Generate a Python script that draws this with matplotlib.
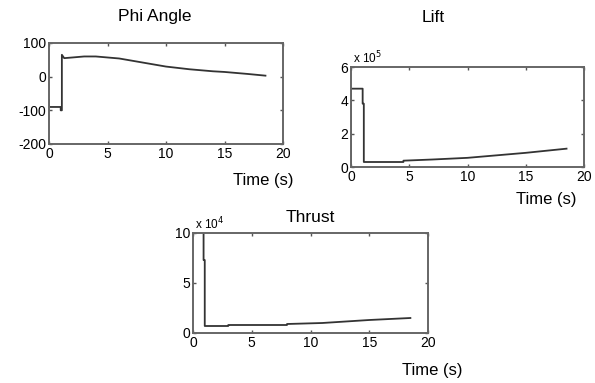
import matplotlib
matplotlib.use("Agg")
import matplotlib.pyplot as plt
from matplotlib.ticker import FuncFormatter

plt.rcParams['font.family'] = ['Liberation Sans', 'DejaVu Sans']
plt.rcParams['axes.unicode_minus'] = False

# Phi Angle データ
phi_t = [0, 0, 0.05, 1.0, 1.0, 1.1, 1.1, 1.3, 2, 3, 4, 5, 6, 7, 8, 9, 10, 11, 12, 13, 14, 15, 16, 17, 18.5]
phi_v = [-70, -90, -90, -90, -100, -100, 65, 55, 57, 60, 60, 57, 54, 48, 42, 36, 30, 26, 22, 19, 16, 14, 11, 8, 3]

# Lift データ
lift_t = [0, 0, 1.0, 1.0, 1.1, 1.1, 4.5, 4.5, 7, 10, 12.5, 15, 18.5]
lift_v = [0, 4.7e5, 4.7e5, 3.8e5, 3.8e5, 0.3e5, 0.3e5, 0.38e5, 0.45e5, 0.55e5, 0.7e5, 0.85e5, 1.1e5]

# Thrust データ
thrust_t = [0.9, 0.9, 1.0, 1.0, 3, 3, 8, 8, 11, 13, 15, 18.5]
thrust_v = [10e4, 7.3e4, 7.3e4, 0.7e4, 0.7e4, 0.8e4, 0.8e4, 0.9e4, 1.0e4, 1.15e4, 1.3e4, 1.5e4]

W, H = 595, 383
fig = plt.figure(figsize=(W / 100, H / 100), dpi=100)


def make_ax(l, t, r, b):
    ax = fig.add_axes([l / W, 1 - b / H, (r - l) / W, (b - t) / H])
    for s in ax.spines.values():
        s.set_color('#666666')
        s.set_linewidth(1.4)
    ax.tick_params(direction='in', length=2.5, width=1, color='#555555',
                   top=True, right=True, labelsize=10, pad=2)
    ax.set_xlim(0, 20)
    ax.set_xticks([0, 5, 10, 15, 20])
    return ax


# Phi Angle
ax1 = make_ax(49, 43, 283, 144)
ax1.plot(phi_t, phi_v, color='#333333', lw=1.3)
ax1.set_ylim(-200, 100)
ax1.set_yticks([-200, -100, 0, 100])
fig.text(155 / W, 1 - 17 / H, 'Phi Angle', ha='center', va='center', fontsize=12.5)
fig.text(263 / W, 1 - 181 / H, 'Time (s)', ha='center', va='center', fontsize=12)

# Lift
ax2 = make_ax(351, 67, 584, 167)
ax2.plot(lift_t, lift_v, color='#333333', lw=1.3)
ax2.set_ylim(0, 6e5)
ax2.set_yticks([0, 2e5, 4e5, 6e5])
ax2.yaxis.set_major_formatter(FuncFormatter(lambda v, p: '%g' % (v / 1e5)))
fig.text(433 / W, 1 - 17 / H, 'Lift', ha='center', va='center', fontsize=12.5)
fig.text(353 / W, 1 - 58 / H, r'x 10$^5$', ha='left', va='center', fontsize=8.5)
fig.text(546 / W, 1 - 199 / H, 'Time (s)', ha='center', va='center', fontsize=12)

# Thrust
ax3 = make_ax(193, 233, 428, 333)
ax3.plot(thrust_t, thrust_v, color='#333333', lw=1.3)
ax3.set_ylim(0, 10e4)
ax3.set_yticks([0, 5e4, 10e4])
ax3.yaxis.set_major_formatter(FuncFormatter(lambda v, p: '%g' % (v / 1e4)))
fig.text(310 / W, 1 - 217 / H, 'Thrust', ha='center', va='center', fontsize=12.5)
fig.text(195 / W, 1 - 224 / H, r'x 10$^4$', ha='left', va='center', fontsize=8.5)
fig.text(432 / W, 1 - 370 / H, 'Time (s)', ha='center', va='center', fontsize=12)

fig.savefig('out.png', dpi=100)
